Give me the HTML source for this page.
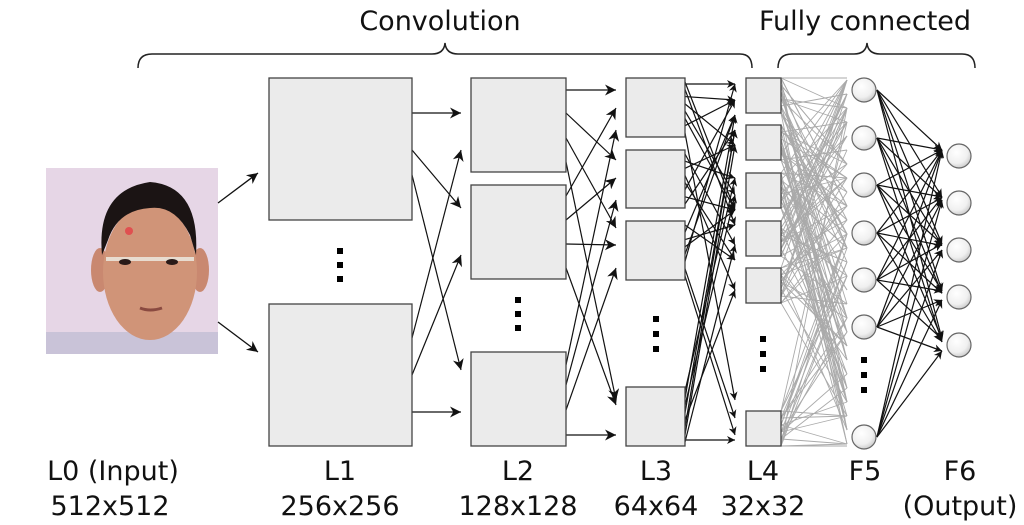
<!DOCTYPE html>
<html><head><meta charset="utf-8"><style>
html,body{margin:0;padding:0;background:#fff;}
svg{display:block;}
text{font-family:"DejaVu Sans","Liberation Sans",sans-serif;fill:#111;}
</style></head><body>
<svg id="s" width="1024" height="525" viewBox="0 0 1024 525" xmlns="http://www.w3.org/2000/svg">
<defs>
<marker id="a" viewBox="0 0 10 10" refX="10" refY="5" markerWidth="12" markerHeight="8" orient="auto" markerUnits="userSpaceOnUse"><path d="M0,0 L10,5 L0,10 L3,5 z" fill="#111"/></marker>
<marker id="b" viewBox="0 0 10 10" refX="10" refY="5" markerWidth="16" markerHeight="11" orient="auto" markerUnits="userSpaceOnUse"><path d="M0,0 L10,5 L0,10 L3,5 z" fill="#111"/></marker>
<radialGradient id="g" cx="40%" cy="35%" r="65%"><stop offset="0" stop-color="#fff"/><stop offset="0.7" stop-color="#f0f0f0"/><stop offset="1" stop-color="#cfcfcf"/></radialGradient>
</defs>
<text x="440" y="30" font-size="27" text-anchor="middle">Convolution</text>
<text x="865" y="30" font-size="27" text-anchor="middle">Fully connected</text>
<path d="M138,68 Q138,54 152,54 L432,54 Q444,54 445,43 Q446,54 458,54 L740,54 Q752,54 752,68" fill="none" stroke="#222" stroke-width="1.5"/>
<path d="M778,68 Q778,54 792,54 L854,54 Q866,54 867,43 Q868,54 880,54 L962,54 Q975,54 975,68" fill="none" stroke="#222" stroke-width="1.5"/>
<!-- photo -->
<rect x="46" y="168" width="172" height="186" fill="#e6d6e6"/>
<rect x="46" y="332" width="172" height="22" fill="#c9c3d8"/>
<ellipse cx="100" cy="270" rx="9" ry="22" fill="#c98870"/>
<ellipse cx="200" cy="270" rx="9" ry="22" fill="#c98870"/>
<ellipse cx="150" cy="272" rx="47" ry="68" fill="#d09478"/>
<path d="M102,255 Q96,190 150,182 Q200,186 196,255 L190,235 Q175,205 150,208 Q118,210 108,240 z" fill="#1b1414"/>
<circle cx="129" cy="231" r="4" fill="#e05050"/>
<rect x="106" y="257" width="88" height="4" fill="#e8dcd0"/>
<ellipse cx="125" cy="262" rx="6" ry="3" fill="#2a1a18"/>
<ellipse cx="172" cy="262" rx="6" ry="3" fill="#2a1a18"/>
<path d="M140,308 Q150,312 162,308" stroke="#8a4a40" stroke-width="3" fill="none"/>
<line x1="218" y1="203" x2="258" y2="173" stroke="#111" stroke-width="1.3" marker-end="url(#b)"/>
<line x1="218" y1="322" x2="258" y2="352" stroke="#111" stroke-width="1.3" marker-end="url(#b)"/>
<g id="lines" stroke="#111" stroke-width="1.2" fill="none"></g>
<g id="grey" stroke="#aaa" stroke-width="0.9" fill="none"></g>
<g id="boxes" fill="#ebebeb" stroke="#444" stroke-width="1.3">
<rect x="269" y="78" width="143" height="142"/>
<rect x="269" y="304" width="143" height="142"/>
<rect x="471" y="78" width="95" height="94"/>
<rect x="471" y="185" width="95" height="94"/>
<rect x="471" y="352" width="95" height="94"/>
<rect x="626" y="78" width="59" height="59"/>
<rect x="626" y="150" width="59" height="58"/>
<rect x="626" y="221" width="59" height="59"/>
<rect x="626" y="387" width="59" height="59"/>
<rect x="746" y="78" width="35" height="35"/>
<rect x="746" y="125" width="35" height="35"/>
<rect x="746" y="173" width="35" height="35"/>
<rect x="746" y="221" width="35" height="35"/>
<rect x="746" y="268" width="35" height="35"/>
<rect x="746" y="411" width="35" height="35"/>
</g>
<g id="circ" fill="url(#g)" stroke="#666" stroke-width="1.2"></g>
<g fill="#000">
<rect x="337" y="248" width="6" height="6"/><rect x="337" y="262" width="6" height="6"/><rect x="337" y="276" width="6" height="6"/>
<rect x="515" y="297" width="6" height="6"/><rect x="515" y="311" width="6" height="6"/><rect x="515" y="325" width="6" height="6"/>
<rect x="653" y="316" width="6" height="6"/><rect x="653" y="331" width="6" height="6"/><rect x="653" y="346" width="6" height="6"/>
<rect x="760" y="336" width="6" height="6"/><rect x="760" y="351" width="6" height="6"/><rect x="760" y="366" width="6" height="6"/>
<rect x="861" y="357" width="6" height="6"/><rect x="861" y="372" width="6" height="6"/><rect x="861" y="387" width="6" height="6"/>
</g>
<g font-size="27" text-anchor="middle">
<text x="113" y="480">L0 (Input)</text><text x="110" y="515">512x512</text>
<text x="340" y="480">L1</text><text x="340" y="515">256x256</text>
<text x="518" y="480">L2</text><text x="518" y="515">128x128</text>
<text x="656" y="480">L3</text><text x="656" y="515">64x64</text>
<text x="763" y="480">L4</text><text x="763" y="515">32x32</text>
<text x="865" y="480">F5</text>
<text x="960" y="480">F6</text><text x="960" y="515">(Output)</text>
</g>
</svg>
<script>
var NS="http://www.w3.org/2000/svg";
function ln(g,x1,y1,x2,y2,m){var l=document.createElementNS(NS,"line");l.setAttribute("x1",x1);l.setAttribute("y1",y1);l.setAttribute("x2",x2);l.setAttribute("y2",y2);if(m)l.setAttribute("marker-end","url(#"+m+")");document.getElementById(g).appendChild(l);}
[[113,113],[150,208],[175,370],[338,150],[375,255],[412,412]].forEach(function(p){ln("lines",412,p[0],461,p[1],"b");});
[[90,90],[113,160],[138,228],[162,400],[196,108],[220,178],[244,245],[268,405],[365,130],[385,200],[410,268],[435,435]].forEach(function(p){ln("lines",566,p[0],616,p[1],"b");});
var seed=7;function r(){seed=(seed*9301+49297)%233280;return seed/233280;}
var tg=[84,100,115,130,145,160,178,195,210,225,245,260,272,290,400,418,435];
var src=[[78,137],[150,208],[221,280],[387,446]];
src.forEach(function(b,i){for(var k=0;k<8;k++){var y=b[0]+4+(b[1]-b[0]-8)*k/7;var t=tg[Math.floor(r()*tg.length)];if(i==3)t=tg[Math.floor(r()*14)];ln("lines",685,y,735,t,"a");}});
ln("lines",685,84,735,84,"a");ln("lines",685,440,735,440,"a");
var l4=[[78,113],[125,160],[173,208],[221,256],[268,303],[411,446]];
var f5=[90,138,185,233,280,327,437];
var gt=[];for(var y=80;y<=445;y+=14)gt.push(y);
l4.forEach(function(b){for(var k=0;k<6;k++){var y=b[0]+(b[1]-b[0])*k/5;for(var j=0;j<4;j++){ln("grey",781,y,847,gt[Math.floor(r()*gt.length)]);}}});
ln("grey",781,78,847,78);ln("grey",781,446,847,446);
var f6=[156,203,250,297,345];
f5.forEach(function(y){for(var j=0;j<5;j++){ln("lines",877,y,942,f6[j]-6+3*j*((y*7)%5)/4,"a");}});
var c=document.getElementById("circ");
function ci(x,y){var e=document.createElementNS(NS,"circle");e.setAttribute("cx",x);e.setAttribute("cy",y);e.setAttribute("r",12);c.appendChild(e);}
f5.forEach(function(y){ci(864,y);});f6.forEach(function(y){ci(959,y);});
</script>
</body></html>
